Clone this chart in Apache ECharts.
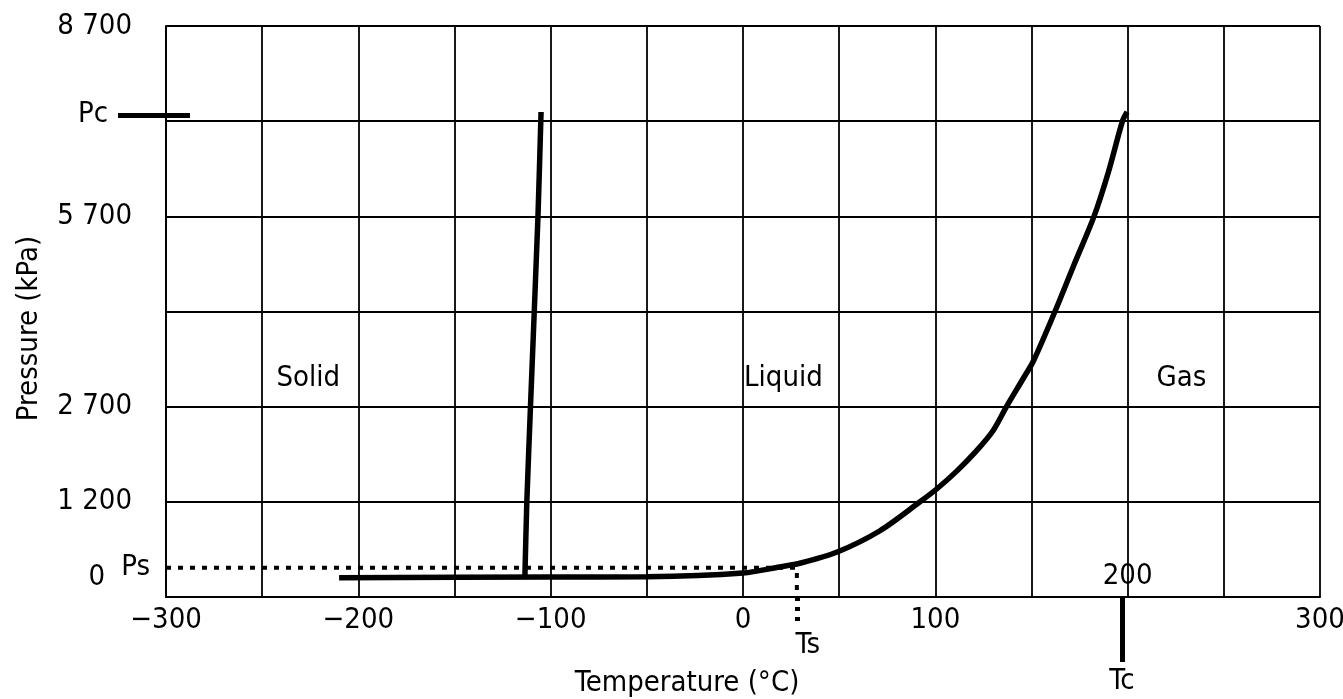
<!DOCTYPE html>
<html>
<head>
<meta charset="utf-8">
<script src="https://cdn.jsdelivr.net/npm/echarts@6/dist/echarts.min.js"></script>
<style>
html,body{margin:0;padding:0;background:#fff;}
#chart{width:1343px;height:699px;}
</style>
</head>
<body>
<div id="chart"></div>
<script>
// ---- data ----
const xMin = -300, xMax = 300, xStep = 50;
const yMin = -300, yMax = 8700;
const xTickLabels = [-300, -200, -100, 0, 100, 300];
const yTickLabels = [1200, 2700, 5700, 8700];
const yGridValues = [1200, 2700, 4200, 5700, 7200, 8700];

// vapour-pressure (sublimation + boiling) curve: temperature (°C), pressure (kPa)
const vapourT = [-210, -101, -50, 0, 19, 30, 49, 71, 92, 101, 111, 121, 130, 137, 146, 151, 162.2, 172, 182.5, 190, 197.3, 199.7];
const vapourP = [4, 15, 20, 78, 173, 236, 409, 740, 1200, 1410, 1680, 1990, 2320, 2700, 3160, 3420, 4200, 4930, 5700, 6400, 7200, 7345];
// melting curve
const meltT = [-113.4, -112.4, -110.5, -106.6, -105.0];
const meltP = [15, 1200, 2700, 5700, 7345];

// reference points
const Ps = 160, Ts = 28;   // standard point
const Pc = 7300, Tc = 197; // critical point

const regionNames = ['Solid', 'Liquid', 'Gas'];
const regionT = [-226, 21, 228];
const regionP = [3140, 3140, 3140];

// ---- chart ----
const FONT = "'DejaVu Sans Condensed', 'Liberation Sans Narrow', 'DejaVu Sans', sans-serif";
const FS = 29;
const black = '#000';

function fmtK(v) {
  if (Math.abs(v) >= 1000) {
    const th = Math.floor(v / 1000), r = v % 1000;
    return th + ' ' + String(r).padStart(3, '0');
  }
  return String(v);
}
function fmtX(v) { return v < 0 ? '\u2212' + Math.abs(v) : String(v); }

const baseX = {
  type: 'value', min: xMin, max: xMax, interval: xStep, position: 'bottom',
  axisLine: { show: false, onZero: false }, axisTick: { show: false },
  splitLine: { show: false }, axisLabel: { show: false }
};
const baseY = {
  type: 'value', min: yMin, max: yMax, position: 'left',
  axisLine: { show: false, onZero: false }, axisTick: { show: false },
  splitLine: { show: false }, axisLabel: { show: false }
};

const option = {
  backgroundColor: '#fff',
  animation: false,
  textStyle: { fontFamily: FONT, color: black },
  grid: { left: 166, right: 23, top: 26, bottom: 102, containLabel: false, outerBoundsMode: 'none' },
  xAxis: [
    Object.assign({}, baseX, {
      axisLine: { show: true, onZero: false, lineStyle: { color: black, width: 2 } },
      splitLine: { show: true, lineStyle: { color: black, width: 1.8 } },
      axisLabel: { show: true, customValues: xTickLabels, formatter: fmtX, margin: 9,
        fontSize: FS, fontFamily: FONT, color: black },
      name: 'Temperature (\u00b0C)', nameLocation: 'middle', nameGap: 72,
      nameTextStyle: { fontSize: FS, fontFamily: FONT, color: black, padding: [0, 112, 0, 0] }
    }),
    Object.assign({}, baseX, {
      axisLabel: { show: true, inside: true, customValues: [200], formatter: fmtX, margin: 6,
        fontSize: FS, fontFamily: FONT, color: black }
    }),
    Object.assign({}, baseX, {
      axisTick: { show: true, customValues: [Ts], length: 28, lineStyle: { color: black, width: 5, type: [4, 6] } },
      axisLabel: { show: true, customValues: [Ts], formatter: () => 'Ts', margin: 34,
        fontSize: FS, fontFamily: FONT, color: black, padding: [0, 0, 0, 22] }
    }),
    Object.assign({}, baseX, {
      axisTick: { show: true, customValues: [Tc], length: 65, lineStyle: { color: black, width: 5 } },
      axisLabel: { show: true, customValues: [Tc], formatter: () => 'Tc', margin: 70,
        fontSize: FS, fontFamily: FONT, color: black }
    })
  ],
  yAxis: [
    Object.assign({}, baseY, {
      axisLine: { show: true, onZero: false, lineStyle: { color: black, width: 2 } },
      axisLabel: { show: true, customValues: yTickLabels, formatter: fmtK, margin: 34,
        fontSize: FS, fontFamily: FONT, color: black },
      name: 'Pressure (kPa)', nameLocation: 'middle', nameGap: 122,
      nameTextStyle: { fontSize: FS, fontFamily: FONT, color: black, padding: [0, 34, 0, 0] }
    }),
    Object.assign({}, baseY, {
      axisLabel: { show: true, customValues: [0], formatter: fmtK, margin: 61,
        fontSize: FS, fontFamily: FONT, color: black }
    }),
    Object.assign({}, baseY, {
      axisLabel: { show: true, customValues: [Ps], formatter: () => 'Ps', margin: 16,
        fontSize: FS, fontFamily: FONT, color: black, padding: [0, 0, 20, 0] }
    }),
    Object.assign({}, baseY, {
      axisTick: { show: true, customValues: [Pc], length: 48, lineStyle: { color: black, width: 5 } },
      axisLabel: { show: true, customValues: [Pc], formatter: () => 'Pc', margin: 58,
        fontSize: FS, fontFamily: FONT, color: black, padding: [14, 0, 0, 0] }
    }),
    Object.assign({}, baseY, {
      axisTick: { show: true, inside: true, customValues: [Pc], length: 24, lineStyle: { color: black, width: 5 } }
    })
  ],
  series: [
    {
      type: 'line', name: 'grid', data: [], silent: true,
      markLine: {
        silent: true, symbol: 'none', animation: false,
        label: { show: false },
        lineStyle: { color: black, width: 1.8, type: 'solid' },
        data: yGridValues.map(v => ({ yAxis: v }))
      }
    },
    {
      type: 'line', name: 'Ps-Ts', showSymbol: false, silent: true,
      lineStyle: { color: black, width: 4, type: [5, 7] },
      data: [[xMin, Ps], [Ts, Ps], [Ts, yMin]]
    },
    {
      type: 'line', name: 'vapour', showSymbol: false, silent: true,
      smooth: 0.3,
      lineStyle: { color: black, width: 5.5 },
      data: vapourT.map((t, i) => [t, vapourP[i]])
    },
    {
      type: 'line', name: 'melting', showSymbol: false, silent: true,
      smooth: 0.2,
      lineStyle: { color: black, width: 5.5 },
      data: meltT.map((t, i) => [t, meltP[i]])
    },
    {
      type: 'scatter', name: 'regions', symbolSize: 1, silent: true,
      itemStyle: { opacity: 1, color: 'rgba(0,0,0,0)' },
      label: { show: true, position: 'inside', fontSize: FS, fontFamily: FONT, color: '#000', opacity: 1,
        formatter: p => regionNames[p.dataIndex] },
      data: regionT.map((t, i) => [t, regionP[i]])
    }
  ]
};

const chart = echarts.init(document.getElementById('chart'), null, { renderer: 'canvas' });
chart.setOption(option);
</script>
</body>
</html>
